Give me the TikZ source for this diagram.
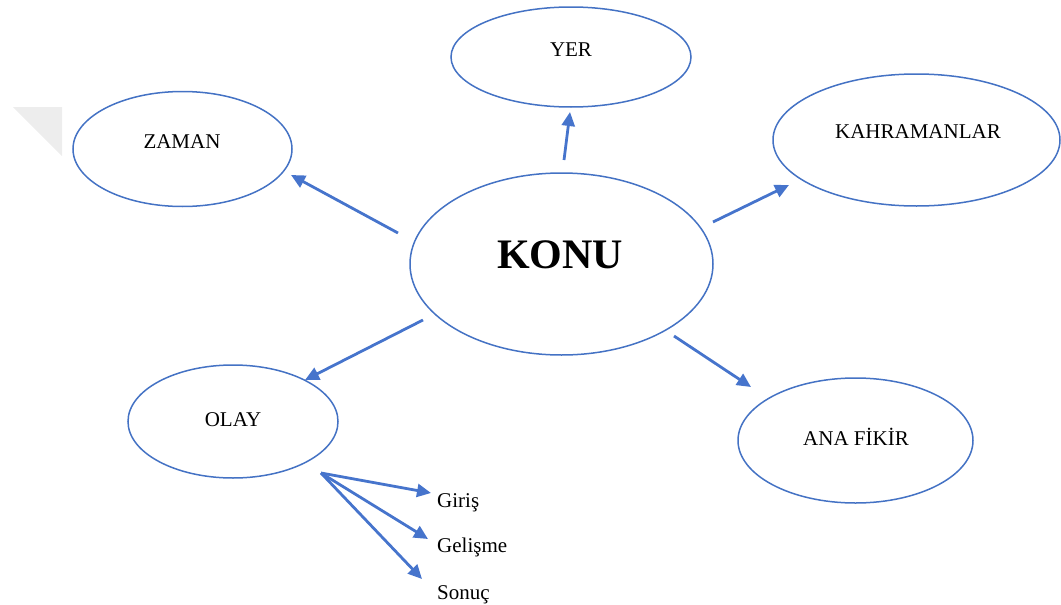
\documentclass[tikz,border=0pt]{standalone}
\usepackage{fontspec}
\setmainfont{Liberation Serif}
\usetikzlibrary{shapes.geometric,arrows.meta}
\definecolor{edgeblue}{HTML}{4472C4}
\definecolor{arrowblue}{HTML}{4674CC}
\begin{document}
\begin{tikzpicture}[x=1pt,y=-1pt,
  bubble/.style={draw=edgeblue,line width=1.5pt,ellipse,inner sep=0pt,fill=white},
  word/.style={font=\fontsize{21}{24}\selectfont,text=black,inner sep=0pt},
  link/.style={draw=arrowblue,line width=2.8pt,-{Triangle[length=14pt,width=13pt]}}]
\useasboundingbox (0,0) rectangle (1061,605);
% faint corner tab
\fill[black!7] (13,107) -- (62,107) -- (62,156) -- cycle;

% ellipses
\node[bubble,minimum width=240pt,minimum height=100pt] (yer) at (571,57) {};
\node[bubble,minimum width=219pt,minimum height=115pt] (zaman) at (182.5,149) {};
\node[bubble,minimum width=287pt,minimum height=132pt] (kahraman) at (916.5,140) {};
\node[bubble,minimum width=303pt,minimum height=182pt] (konu) at (561.5,264) {};
\node[bubble,minimum width=210pt,minimum height=113pt] (olay) at (233,421.5) {};
\node[bubble,minimum width=235pt,minimum height=125pt] (fikir) at (855.5,440.5) {};

% labels
\node[word] (tyer) at (571,50) {YER};
\node[word] (tzaman) at (182,142) {ZAMAN};
\node[word] (tkahraman) at (918,132) {KAHRAMANLAR};
\node[font=\fontsize{42}{46}\selectfont\bfseries,inner sep=0pt] (tkonu) at (560,255) {KONU};
\node[word] (tolay) at (233,420) {OLAY};
\node[word] (tfikir) at (856,437) {ANA FİKİR};

\node[word,anchor=base west] (giris) at (437,507) {Giriş};
\node[word,anchor=base west] (gelisme) at (437,552) {Gelişme};
\node[word,anchor=base west] (sonuc) at (437,599) {Sonuç};

% arrow ends
\coordinate (zA) at (398,233); \coordinate (zB) at (291,175);
\coordinate (yA) at (564,160); \coordinate (yB) at (570,112);
\coordinate (kA) at (713,222); \coordinate (kB) at (789,185);
\coordinate (oA) at (423,320); \coordinate (oB) at (305,380);
\coordinate (fA) at (674,336); \coordinate (fB) at (751,387);
\coordinate (sub) at (321,473);
\coordinate (g1) at (431,493);
\coordinate (g2) at (428,539);
\coordinate (g3) at (422,579);

\draw[link] (zA) -- (zB);
\draw[link] (yA) -- (yB);
\draw[link] (kA) -- (kB);
\draw[link] (oA) -- (oB);
\draw[link] (fA) -- (fB);
\draw[link] (sub) -- (g1);
\draw[link] (sub) -- (g2);
\draw[link] (sub) -- (g3);
\end{tikzpicture}
\end{document}
